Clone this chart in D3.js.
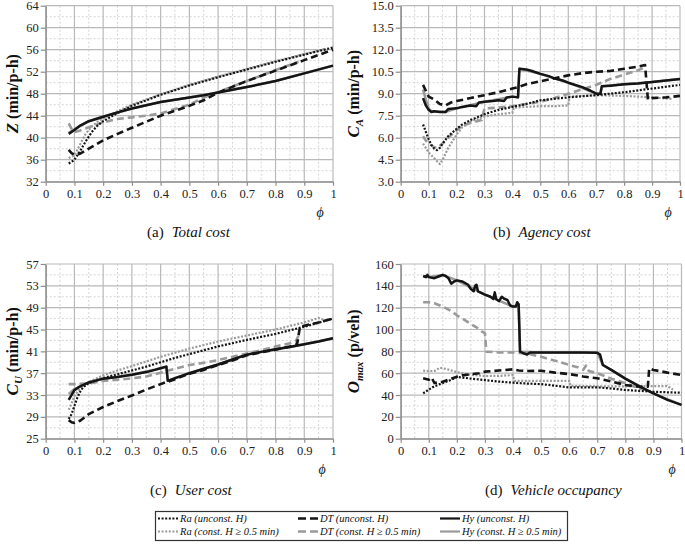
<!DOCTYPE html>
<html><head><meta charset="utf-8">
<script src="https://cdn.jsdelivr.net/npm/d3@7"></script>
<style>body{margin:0;background:#fff}svg{display:block}</style>
</head><body><svg id="c" width="685" height="545" font-family="Liberation Serif"></svg>
<script>
// ---------- tick labels ----------
const xTicks = [0,0.1,0.2,0.3,0.4,0.5,0.6,0.7,0.8,0.9,1];
const aTicks = [32,36,40,44,48,52,56,60,64];
const bTicks = [3,4.5,6,7.5,9,10.5,12,13.5,15];
const cTicks = [25,29,33,37,41,45,49,53,57];
const dTicks = [0,20,40,60,80,100,120,140,160];
const seriesNames = ["Ra (unconst. H)","DT (unconst. H)","Hy (unconst. H)","Ra (const. H \u2265 0.5 min)","DT (const. H \u2265 0.5 min)","Hy (const. H \u2265 0.5 min)"];

// ---------- (a) Total cost Z ----------
const aRaU=[[0.08,35.3],[0.09,35.6],[0.1,36.0],[0.12,37.6],[0.14,39.4],[0.16,41.0],[0.18,42.2],[0.2,43.0],[0.25,44.5],[0.3,45.8],[0.35,46.8],[0.4,47.8],[0.5,49.5],[0.6,51.0],[0.7,52.4],[0.8,53.8],[0.9,55.1],[1.0,56.4]];
const aRaC=[[0.08,36.3],[0.1,36.8],[0.12,38.8],[0.14,40.8],[0.16,42.0],[0.18,42.9],[0.2,43.5],[0.25,44.8],[0.3,46.0],[0.4,47.9],[0.5,49.6],[0.6,51.1],[0.7,52.5],[0.8,53.9],[0.9,55.2],[0.97,56.1]];
const aDtU=[[0.08,37.8],[0.09,37.2],[0.1,36.9],[0.12,37.1],[0.15,38.0],[0.2,39.5],[0.25,40.7],[0.3,41.8],[0.35,42.9],[0.4,44.0],[0.45,44.9],[0.5,45.8],[0.55,46.8],[0.6,48.2],[0.7,50.3],[0.8,52.2],[0.9,54.1],[1.0,56.0]];
const aDtC=[[0.08,42.6],[0.09,41.6],[0.1,41.0],[0.12,41.3],[0.15,41.9],[0.2,42.8],[0.25,43.4],[0.3,43.7],[0.35,44.0],[0.4,44.4],[0.45,45.2],[0.5,46.0],[0.55,47.3],[0.6,48.3],[0.7,50.3],[0.8,52.3],[0.88,53.8]];
const aHyU=[[0.08,40.7],[0.1,41.4],[0.12,42.2],[0.15,43.0],[0.2,43.8],[0.25,44.6],[0.3,45.3],[0.35,45.9],[0.4,46.5],[0.45,46.9],[0.5,47.3],[0.55,47.7],[0.6,48.2],[0.7,49.2],[0.8,50.3],[0.9,51.7],[1.0,53.1]];
const aHyC=[[0.08,40.9],[0.1,41.5],[0.15,43.0],[0.2,43.8],[0.3,45.3],[0.4,46.5],[0.5,47.3],[0.6,48.2],[0.7,49.2],[0.8,50.3],[0.9,51.7],[1.0,53.1]];

// ---------- (b) Agency cost C_A ----------
const bRaU=[[0.08,6.9],[0.09,6.4],[0.1,5.9],[0.11,5.5],[0.12,5.25],[0.13,5.15],[0.14,5.3],[0.15,5.6],[0.17,6.1],[0.2,6.6],[0.22,6.9],[0.25,7.2],[0.3,7.6],[0.35,7.9],[0.4,8.1],[0.45,8.3],[0.5,8.55],[0.6,8.75],[0.7,8.9],[0.75,9.0],[0.8,9.1],[0.9,9.35],[1.0,9.6]];
const bRaC=[[0.08,5.6],[0.09,5.3],[0.1,5.0],[0.12,4.6],[0.14,4.2],[0.15,4.5],[0.17,5.3],[0.2,6.2],[0.22,6.7],[0.25,7.1],[0.3,7.45],[0.35,7.6],[0.4,7.7],[0.405,8.05],[0.45,8.1],[0.5,8.15],[0.55,8.15],[0.6,8.2],[0.605,8.8],[0.7,8.9],[0.8,8.85],[0.9,8.75],[0.97,8.65]];
const bDtU=[[0.08,9.6],[0.09,9.2],[0.1,8.8],[0.12,8.6],[0.14,8.3],[0.16,8.2],[0.18,8.4],[0.2,8.5],[0.25,8.7],[0.3,8.9],[0.35,9.1],[0.4,9.35],[0.42,9.45],[0.45,9.65],[0.5,9.85],[0.55,10.05],[0.6,10.25],[0.65,10.4],[0.7,10.5],[0.75,10.55],[0.8,10.7],[0.85,10.85],[0.875,10.95],[0.885,8.6],[0.9,8.7],[0.95,8.75],[1.0,8.85]];
const bDtC=[[0.08,6.1],[0.09,5.8],[0.1,5.6],[0.12,5.35],[0.13,5.3],[0.15,5.6],[0.17,6.0],[0.2,6.5],[0.22,6.8],[0.25,7.0],[0.27,7.1],[0.29,7.2],[0.3,8.0],[0.35,8.05],[0.4,8.15],[0.45,8.3],[0.5,8.45],[0.55,8.7],[0.6,9.0],[0.65,9.3],[0.7,9.6],[0.75,10.0],[0.8,10.3],[0.85,10.6],[0.88,10.85]];
const bHyU=[[0.08,8.7],[0.09,8.2],[0.1,7.9],[0.11,7.75],[0.12,7.8],[0.14,7.75],[0.16,7.75],[0.17,7.95],[0.2,8.0],[0.22,8.1],[0.25,8.2],[0.27,8.15],[0.28,8.4],[0.3,8.45],[0.33,8.5],[0.35,8.55],[0.37,8.5],[0.38,8.75],[0.4,8.8],[0.42,8.75],[0.425,10.7],[0.45,10.65],[0.47,10.55],[0.5,10.35],[0.53,10.2],[0.55,10.05],[0.58,9.9],[0.6,9.75],[0.65,9.45],[0.68,9.2],[0.7,9.0],[0.715,9.0],[0.72,9.5],[0.75,9.55],[0.8,9.65],[0.85,9.7],[0.9,9.8],[0.95,9.9],[1.0,10.0]];
const bHyC=[[0.08,9.3],[0.09,8.6],[0.1,8.0],[0.11,7.8],[0.16,7.75],[0.2,8.0],[0.3,8.45],[0.4,8.8],[0.42,8.75],[0.425,10.7],[0.5,10.35],[0.6,9.75],[0.7,9.0],[0.715,9.0],[0.72,9.5],[0.8,9.65],[0.9,9.8],[1.0,10.0]];

// ---------- (c) User cost C_U ----------
const cRaU=[[0.08,28.6],[0.09,29.5],[0.1,31.0],[0.11,32.5],[0.12,33.6],[0.13,34.4],[0.15,35.2],[0.2,36.1],[0.25,36.8],[0.3,37.5],[0.35,38.2],[0.4,39.0],[0.45,39.8],[0.5,40.5],[0.6,41.9],[0.7,43.1],[0.8,44.2],[0.9,45.5],[1.0,47.0]];
const cRaC=[[0.08,30.3],[0.09,31.5],[0.1,32.8],[0.12,34.3],[0.15,35.4],[0.2,36.6],[0.25,37.5],[0.3,38.3],[0.4,40.0],[0.5,41.5],[0.6,42.8],[0.7,43.9],[0.8,45.0],[0.9,46.3],[0.95,47.1],[0.97,46.7]];
const cDtU=[[0.08,28.4],[0.09,28.0],[0.1,27.9],[0.12,28.3],[0.15,29.5],[0.2,30.8],[0.25,31.9],[0.3,32.9],[0.35,34.0],[0.4,35.0],[0.42,35.4],[0.43,35.5],[0.45,35.9],[0.5,36.9],[0.55,37.6],[0.6,38.5],[0.65,39.3],[0.7,40.3],[0.75,40.8],[0.8,41.3],[0.85,41.9],[0.875,42.3],[0.885,45.5],[0.9,45.7],[0.95,46.3],[1.0,47.0]];
const cDtC=[[0.08,35.0],[0.1,35.0],[0.15,35.1],[0.2,35.6],[0.25,35.8],[0.3,36.05],[0.35,36.4],[0.4,37.1],[0.45,37.8],[0.5,38.5],[0.55,38.9],[0.6,39.4],[0.65,40.0],[0.7,40.6],[0.75,41.2],[0.8,41.9],[0.85,42.5],[0.87,42.8],[0.885,44.4]];
const cHyU=[[0.08,32.1],[0.1,33.9],[0.12,34.6],[0.15,35.3],[0.2,36.0],[0.25,36.3],[0.3,36.7],[0.35,37.2],[0.38,37.6],[0.4,37.9],[0.42,38.2],[0.425,35.6],[0.45,36.1],[0.5,37.0],[0.55,37.8],[0.6,38.6],[0.65,39.5],[0.7,40.4],[0.75,40.9],[0.8,41.4],[0.85,41.8],[0.9,42.3],[0.95,42.8],[1.0,43.4]];
const cHyC=[[0.08,33.2],[0.1,34.1],[0.15,35.3],[0.2,36.0],[0.3,36.7],[0.4,37.9],[0.42,38.2],[0.425,35.6],[0.5,37.0],[0.6,38.6],[0.7,40.4],[0.8,41.4],[0.9,42.3],[1.0,43.4]];

// ---------- (d) Vehicle occupancy O_max ----------
const dRaU=[[0.08,41.5],[0.1,45],[0.12,48],[0.15,51],[0.18,54],[0.2,56.5],[0.22,56],[0.25,55],[0.3,53.7],[0.35,52.3],[0.4,51.3],[0.45,50.5],[0.5,50],[0.55,48.5],[0.6,47],[0.65,47],[0.7,47],[0.75,46],[0.8,44.6],[0.85,43.8],[0.9,43],[0.95,42.5],[1.0,42.1]];
const dRaC=[[0.08,62.3],[0.1,62],[0.12,62],[0.14,65],[0.16,64],[0.2,61],[0.25,58.5],[0.3,57.4],[0.35,57.5],[0.4,58.3],[0.405,53],[0.5,53],[0.6,53],[0.605,48.5],[0.7,48],[0.8,48],[0.9,48.2],[0.95,48.2],[0.97,45]];
const dDtU=[[0.08,55.3],[0.1,54],[0.11,56],[0.12,51],[0.15,52.2],[0.18,55],[0.2,56.8],[0.22,58],[0.25,59],[0.28,60],[0.3,61.4],[0.35,62.5],[0.4,63.5],[0.42,62.5],[0.45,62],[0.5,62.3],[0.55,60.5],[0.6,59.2],[0.65,57],[0.7,55.3],[0.75,52.5],[0.8,49.2],[0.85,47.5],[0.88,47.6],[0.885,64.4],[0.9,63],[0.95,60.5],[1.0,58.3]];
const dDtC=[[0.08,125],[0.1,125],[0.12,124],[0.15,121],[0.18,117],[0.2,113],[0.22,110],[0.25,105],[0.27,102],[0.29,98],[0.3,96.5],[0.305,79.7],[0.35,79],[0.4,79],[0.45,78],[0.5,75],[0.55,71.5],[0.6,67.5],[0.63,65.5],[0.65,63],[0.66,67],[0.67,62],[0.7,60],[0.75,55],[0.8,50.7],[0.85,46],[0.88,45]];
const dHyU=[[0.08,149],[0.09,148],[0.095,150],[0.1,148],[0.12,147],[0.14,149],[0.15,150],[0.16,149],[0.17,147],[0.18,142],[0.19,144],[0.2,145],[0.22,144],[0.24,141],[0.25,137],[0.26,135],[0.265,140],[0.27,141],[0.275,135],[0.3,132],[0.32,130],[0.33,128],[0.335,134],[0.34,128],[0.35,126],[0.36,130],[0.37,128],[0.38,127],[0.39,122],[0.4,121],[0.41,121],[0.415,125],[0.42,123],[0.425,79.7],[0.44,78],[0.45,77],[0.46,79],[0.5,79],[0.55,79],[0.6,79],[0.65,79],[0.7,78.8],[0.71,77],[0.72,67.5],[0.75,63],[0.8,55],[0.85,48],[0.9,41.5],[0.95,35.5],[1.0,31]];
const dHyC=[[0.08,149],[0.1,148],[0.15,150],[0.2,145],[0.3,132],[0.4,121],[0.42,123],[0.425,79.7],[0.5,79],[0.7,78.8],[0.72,67.5],[0.8,55],[0.9,41.5],[1.0,31]];

// ---------- layout & styles ----------
const FONT = "Liberation Serif";
const styles = {
  raU:{stroke:"#141414",w:2.2,dash:"2,1.6"},
  raC:{stroke:"#9a9a9a",w:2.2,dash:"2,1.6"},
  dtU:{stroke:"#141414",w:2.6,dash:"7,4"},
  dtC:{stroke:"#9a9a9a",w:2.6,dash:"7,4"},
  hyU:{stroke:"#141414",w:2.5,dash:null},
  hyC:{stroke:"#9a9a9a",w:2.5,dash:null}
};
const panels = [
  {L:45.7,R:333,T:5.7,B:181.7,dom:[32,64],ticks:aTicks,fmt:d3.format("d"),
   data:{hyC:aHyC,raC:aRaC,dtC:aDtC,raU:aRaU,dtU:aDtU,hyU:aHyU},
   title:[{t:"Z",i:true},{t:" (min/p-h)"}],tx:13,phiX:320,phiY:217,cap:"(a)",capT:"Total cost",capX:147,capY:237},
  {L:400.7,R:680,T:5.7,B:181.7,dom:[3,15],ticks:bTicks,fmt:d3.format(".1f"),
   data:{hyC:bHyC,raC:bRaC,dtC:bDtC,raU:bRaU,dtU:bDtU,hyU:bHyU},
   title:[{t:"C",i:true},{t:"A",i:true,sub:true},{t:" (min/p-h)"}],tx:354,phiX:668,phiY:217,cap:"(b)",capT:"Agency cost",capX:493,capY:237},
  {L:45.7,R:333,T:264,B:438.7,dom:[25,57],ticks:cTicks,fmt:d3.format("d"),
   data:{hyC:cHyC,raC:cRaC,dtC:cDtC,raU:cRaU,dtU:cDtU,hyU:cHyU},
   title:[{t:"C",i:true},{t:"U",i:true,sub:true},{t:" (min/p-h)"}],tx:13,phiX:322,phiY:474,cap:"(c)",capT:"User cost",capX:150,capY:495},
  {L:400.7,R:681.5,T:264,B:438.7,dom:[0,160],ticks:dTicks,fmt:d3.format("d"),
   data:{hyC:dHyC,raC:dRaC,dtC:dDtC,raU:dRaU,dtU:dDtU,hyU:dHyU},
   title:[{t:"O",i:true},{t:"max",i:true,sub:true},{t:" (p/veh)"}],tx:354,phiX:672,phiY:474,cap:"(d)",capT:"Vehicle occupancy",capX:485,capY:495}
];

const svg = d3.select("#c");

panels.forEach(p => {
  const x = d3.scaleLinear().domain([0,1]).range([p.L,p.R]);
  const y = d3.scaleLinear().domain(p.dom).range([p.B,p.T]);
  const g = svg.append("g");
  const step = p.ticks[1]-p.ticks[0];
  const minorY = p.ticks.slice(0,-1).map(t=>t+step/2);
  const minorX = xTicks.slice(0,-1).map(t=>t+0.05);
  g.selectAll(".mx").data(minorX).join("line")
    .attr("x1",d=>x(d)).attr("x2",d=>x(d)).attr("y1",p.T).attr("y2",p.B)
    .attr("stroke","#d4d4d4").attr("stroke-dasharray","2,2").attr("stroke-width",1);
  g.selectAll(".my").data(minorY).join("line")
    .attr("y1",d=>y(d)).attr("y2",d=>y(d)).attr("x1",p.L).attr("x2",p.R)
    .attr("stroke","#d4d4d4").attr("stroke-dasharray","2,2").attr("stroke-width",1);
  g.selectAll(".Mx").data(xTicks).join("line")
    .attr("x1",d=>x(d)).attr("x2",d=>x(d)).attr("y1",p.T).attr("y2",p.B)
    .attr("stroke","#b9b9b9").attr("stroke-width",1.2);
  g.selectAll(".My").data(p.ticks).join("line")
    .attr("y1",d=>y(d)).attr("y2",d=>y(d)).attr("x1",p.L).attr("x2",p.R)
    .attr("stroke","#b9b9b9").attr("stroke-width",1.2);
  const ax = d3.axisBottom(x).tickValues(xTicks).tickSize(4).tickSizeOuter(0).tickPadding(3)
     .tickFormat(d=>d===0||d===1?String(d):d3.format(".1f")(d));
  const gx = svg.append("g").attr("transform",`translate(0,${p.B})`).call(ax);
  const ay = d3.axisLeft(y).tickValues(p.ticks).tickSize(5).tickSizeOuter(0).tickPadding(2).tickFormat(p.fmt);
  const gy = svg.append("g").attr("transform",`translate(${p.L},0)`).call(ay);
  [gx,gy].forEach(a=>{
    a.attr("font-family",FONT).attr("font-size",12.5);
    a.select(".domain").attr("stroke","#8c8c8c").attr("stroke-width",1.3);
    a.selectAll(".tick line").attr("stroke","#8c8c8c").attr("stroke-width",1.2);
    a.selectAll("text").attr("fill","#222");
  });
  const line = d3.line().x(d=>x(d[0])).y(d=>y(d[1]));
  Object.entries(p.data).forEach(([k,arr])=>{
    const s = styles[k];
    svg.append("path").datum(arr).attr("d",line).attr("fill","none")
      .attr("stroke",s.stroke).attr("stroke-width",s.w)
      .attr("stroke-dasharray",s.dash).attr("stroke-linejoin","round");
  });
  const t = svg.append("text").attr("font-family",FONT)
    .attr("transform",`translate(${p.tx + 5},${(p.T+p.B)/2}) rotate(-90)`)
    .attr("text-anchor","middle").attr("font-weight","bold").attr("font-size",16).attr("fill","#111");
  p.title.forEach((part,i)=>{
    const ts = t.append("tspan").text(part.t);
    if(part.i) ts.attr("font-style","italic");
    if(part.sub) ts.attr("font-size",11).attr("dy",4);
    else if(i>0 && p.title[i-1].sub) ts.attr("dy",-4);
    if(i===0) ts.attr("font-size",17);
  });
  svg.append("text").attr("font-family",FONT).attr("x",p.phiX).attr("y",p.phiY).attr("text-anchor","middle")
    .attr("font-style","italic").attr("font-size",14).attr("fill","#222").text("\u03d5");
  const c = svg.append("text").attr("font-family",FONT).attr("x",p.capX).attr("y",p.capY).attr("font-size",15).attr("fill","#111");
  c.append("tspan").text(p.cap);
  c.append("tspan").attr("dx",8).attr("font-style","italic").text(p.capT);
});

// ---------- legend ----------
const lg = svg.append("g").attr("font-family",FONT);
lg.append("rect").attr("x",155.5).attr("y",511.5).attr("width",412).attr("height",29)
  .attr("fill","#fff").attr("stroke","#333").attr("stroke-width",1.2);
const legKeys = ["raU","dtU","hyU","raC","dtC","hyC"];
const colX = [158,298,440];
const rowY = [522,535];
legKeys.forEach((k,i)=>{
  const s = styles[k];
  const cx = colX[i%3], cy = rowY[Math.floor(i/3)];
  lg.append("line").attr("x1",cx).attr("x2",cx+20).attr("y1",cy-3.5).attr("y2",cy-3.5)
    .attr("stroke",s.stroke).attr("stroke-width",s.dash==="7,4"?2.4:(s.dash?1.8:2.2))
    .attr("stroke-dasharray",s.dash==="7,4"?"8,4":s.dash);
  lg.append("text").attr("x",cx+22).attr("y",cy).attr("font-size",10.5)
    .attr("font-style","italic").attr("fill","#111").text(seriesNames[i]);
});
</script></body></html>
